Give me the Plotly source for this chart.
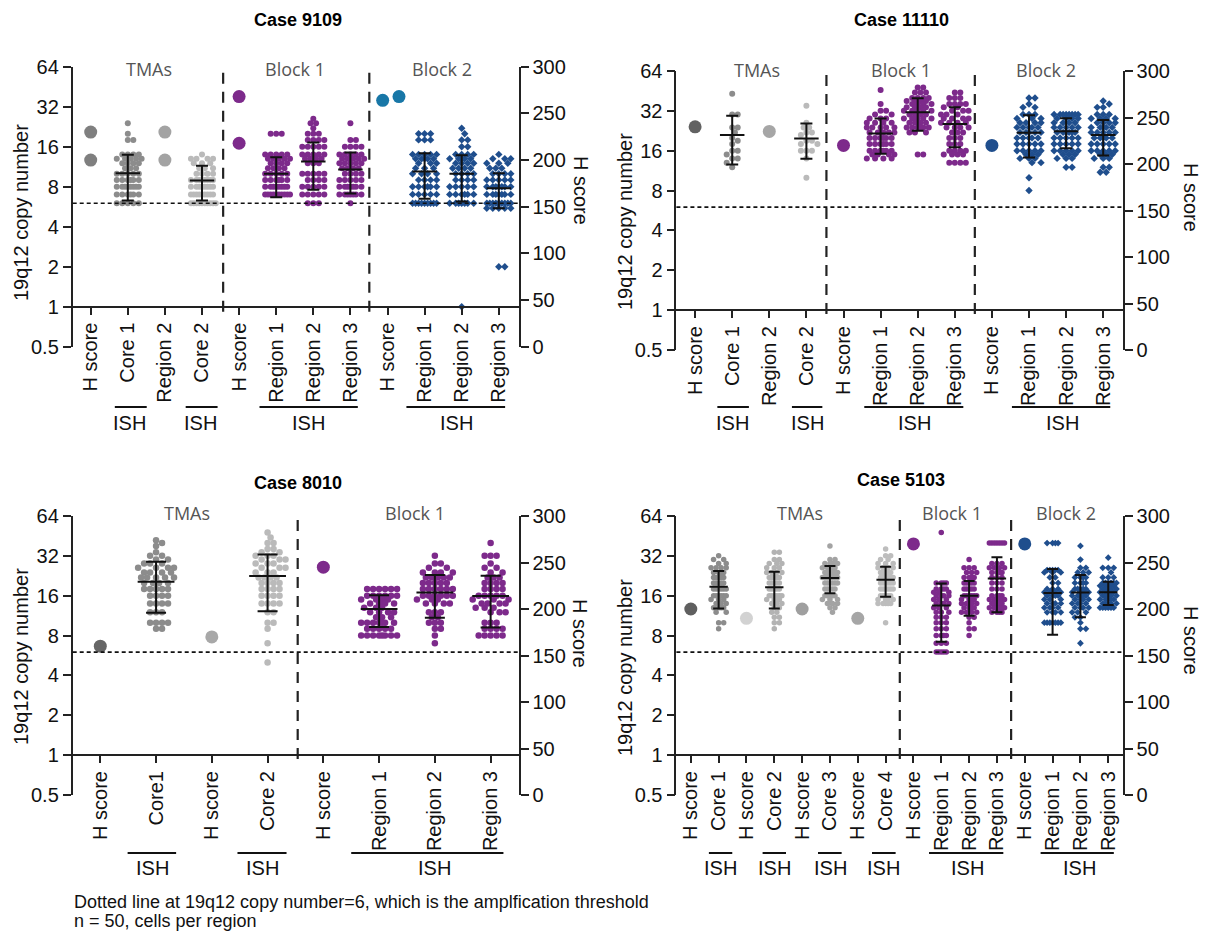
import math
import plotly.graph_objects as go

# figure fills the 1214x934 window after the page's default 8px body margin
OFF = 8
W, H = 1214 - OFF, 934 - OFF

# ======================= DATA =======================
# ---- Case 9109 ----
C9109_LABELS = ["H score", "Core 1", "Region 2", "Core 2", "H score", "Region 1", "Region 2", "Region 3",
                "H score", "Region 1", "Region 2", "Region 3"]
C9109_H_COLS = [0, 0, 2, 2, 4, 4, 8, 8]
C9109_H_SCORE = [230, 200, 230, 200, 268, 218, 264, 268]
C9109_ISH_COLS = [1, 3, 5, 6, 7, 9, 10, 11]
C9109_CORE1 = {24: 1, 20: 1, 18: 2, 14: 4, 13: 5, 12: 4, 11: 3, 10: 5, 9: 6, 8: 8, 7: 6, 6: 5}
C9109_CORE2 = {14: 1, 13: 4, 12: 3, 11: 3, 10: 4, 9: 8, 8: 8, 7: 9, 6: 10}
C9109_B1_R1 = {20: 3, 14: 5, 13: 5, 12: 4, 11: 4, 10: 5, 9: 6, 8: 8, 7: 10}
C9109_B1_R2 = {26: 1, 24: 2, 22: 1, 20: 3, 18: 4, 16: 5, 14: 5, 13: 4, 12: 3, 10: 5, 9: 4, 8: 5, 7: 5, 6: 3}
C9109_B1_R3 = {24: 1, 18: 2, 16: 4, 14: 5, 13: 5, 12: 5, 11: 4, 10: 4, 9: 5, 8: 7, 7: 7, 6: 1}
C9109_B2_R1 = {20: 3, 18: 3, 14: 5, 13: 5, 12: 3, 11: 3, 10: 4, 9: 4, 8: 6, 7: 5, 6: 9}
C9109_B2_R2 = {22: 1, 20: 1, 18: 2, 16: 2, 14: 4, 13: 5, 12: 4, 11: 4, 10: 4, 9: 4, 8: 5, 7: 6, 6: 7, 1: 1}
C9109_B2_R3 = {14: 1, 13: 3, 12: 3, 11: 3, 10: 4, 9: 5, 8: 7, 7: 7, 6: 10, 5.5: 5, 2: 2}
C9109_MEAN = [10.1, 8.9, 10.0, 12.4, 10.8, 10.4, 10.0, 7.8]
C9109_SD = [3.8, 2.6, 3.35, 4.8, 3.7, 3.9, 3.8, 2.3]

# ---- Case 11110 ----
C11110_LABELS = C9109_LABELS
C11110_H_COLS = [0, 2, 4, 8]
C11110_H_SCORE = [240, 235, 220, 220]
C11110_ISH_COLS = [1, 3, 5, 6, 7, 9, 10, 11]
C11110_CORE1 = {43: 1, 30: 2, 24: 2, 22: 1, 20: 1, 19: 1, 18: 1, 16: 2, 15: 1, 14: 2, 13: 1, 12: 1}
C11110_CORE2 = {35: 1, 26: 1, 24: 2, 22: 2, 21: 1, 19: 2, 18: 2, 16: 3, 14: 1, 10: 1}
C11110_B1_R1 = {46: 1, 36: 1, 32: 2, 30: 2, 28: 3, 26: 4, 24: 5, 22: 6, 20: 6, 18: 6, 16: 6, 15: 4, 14: 4}
C11110_B1_R2 = {48: 2, 44: 3, 40: 4, 38: 4, 36: 4, 34: 4, 32: 5, 30: 4, 28: 5, 26: 4, 24: 6, 22: 3, 15: 2}
C11110_B1_R3 = {44: 2, 40: 3, 36: 4, 34: 2, 32: 3, 30: 3, 28: 4, 26: 4, 24: 4, 22: 3, 20: 3, 18: 3, 16: 4,
                15: 4, 13: 4}
C11110_B2_R1 = {40: 2, 36: 1, 34: 2, 30: 3, 28: 3, 26: 4, 24: 5, 22: 5, 20: 5, 18: 5, 16: 5, 15: 3, 14: 3,
                13: 2, 10: 1, 8: 1}
C11110_B2_R2 = {30: 8, 28: 4, 26: 4, 24: 5, 22: 6, 20: 5, 18: 5, 16: 5, 15: 3, 14: 3, 12: 2}
C11110_B2_R3 = {38: 1, 36: 1, 34: 2, 30: 3, 28: 4, 26: 4, 24: 5, 22: 5, 20: 5, 18: 5, 16: 5, 15: 3, 14: 3,
                12: 2, 11: 2}
C11110_MEAN = [21.0, 19.8, 21.6, 31.2, 25.5, 21.9, 22.4, 21.0]
C11110_SD = [8.4, 5.9, 6.4, 8.6, 8.5, 7.7, 5.7, 6.3]

# ---- Case 8010 ----
C8010_LABELS = ["H score", "Core1", "H score", "Core 2", "H score", "Region 1", "Region 2", "Region 3"]
C8010_H_COLS = [0, 2, 4]
C8010_H_SCORE = [160, 170, 245]
C8010_ISH_COLS = [1, 3, 5, 6, 7]
C8010_CORE1 = {42: 1, 40: 1, 38: 1, 34: 1, 32: 2, 30: 2, 28: 3, 26: 4, 24: 4, 22: 5, 20: 4, 18: 5, 16: 4,
               14: 4, 12: 3, 10: 4, 9: 2}
C8010_CORE2 = {48: 1, 44: 1, 40: 2, 36: 2, 34: 2, 32: 3, 30: 3, 28: 3, 26: 3, 24: 3, 22: 4, 20: 4, 18: 4,
               16: 4, 14: 4, 12: 2, 10: 2, 9: 1, 7: 1, 5: 1}
C8010_B1_R1 = {18: 6, 16: 6, 15: 4, 14: 4, 13: 3, 12: 4, 11: 3, 10: 7, 9: 5, 8: 8}
C8010_B1_R2 = {32: 1, 28: 2, 26: 2, 24: 4, 22: 5, 20: 5, 18: 6, 16: 6, 15: 3, 14: 4, 12: 3, 11: 2, 10: 3,
               9: 2, 8: 1, 7: 1}
C8010_B1_R3 = {40: 1, 32: 3, 28: 1, 26: 2, 24: 2, 22: 3, 20: 4, 18: 4, 16: 5, 15: 3, 14: 4, 13: 3, 12: 3,
               10: 3, 9: 4, 8: 5}
C8010_MEAN = [20.4, 22.5, 12.7, 16.9, 15.9]
C8010_SD = [8.5, 10.3, 3.4, 6.0, 6.7]

# ---- Case 5103 ----
C5103_LABELS = ["H score", "Core 1", "H score", "Core 2", "H score", "Core 3", "H score", "Core 4",
                "H score", "Region 1", "Region 2", "Region 3", "H score", "Region 1", "Region 2", "Region 3"]
C5103_H_COLS = [0, 2, 4, 6, 8, 12]
C5103_H_SCORE = [200, 190, 200, 190, 270, 270]
C5103_ISH_COLS = [1, 3, 5, 7, 9, 10, 11, 13, 14, 15]
C5103_CORE1 = {32: 1, 30: 2, 28: 2, 26: 4, 24: 4, 22: 5, 20: 5, 18: 6, 16: 6, 15: 3, 14: 3, 13: 4, 12: 2,
               10: 2, 9: 1}
C5103_CORE2 = {34: 2, 30: 2, 28: 3, 26: 3, 24: 4, 22: 5, 20: 5, 18: 5, 16: 6, 15: 3, 14: 3, 13: 2, 12: 2,
               11: 2, 10: 2, 9: 1}
C5103_CORE3 = {38: 1, 30: 2, 28: 4, 26: 5, 24: 6, 22: 7, 20: 6, 18: 5, 16: 5, 15: 3, 14: 3, 13: 2, 12: 1}
C5103_CORE4 = {36: 1, 32: 2, 30: 2, 28: 3, 26: 4, 24: 5, 22: 6, 20: 6, 18: 6, 16: 5, 15: 4, 14: 5, 10: 1}
C5103_B1_R1 = {48: 1, 20: 4, 18: 4, 17: 3, 16: 4, 15: 3, 14: 4, 13: 3, 12: 3, 11: 3, 10: 3, 9: 3, 8: 4,
               7: 3, 6: 5}
C5103_B1_R2 = {30: 1, 26: 3, 24: 3, 22: 4, 20: 5, 18: 5, 16: 6, 15: 4, 14: 5, 13: 4, 12: 4, 11: 2, 10: 1,
               9: 2, 8: 1}
C5103_B1_R3 = {40: 7, 28: 3, 26: 4, 24: 4, 22: 3, 20: 3, 18: 3, 16: 4, 15: 4, 14: 5, 13: 6, 12: 4}
C5103_B2_R1 = {40: 4, 25: 5, 24: 3, 22: 2, 20: 2, 18: 3, 17: 5, 16: 4, 15: 3, 14: 4, 13: 4, 12: 4, 10: 7}
C5103_B2_R2 = {38: 1, 30: 1, 26: 2, 24: 3, 22: 4, 20: 4, 18: 5, 17: 4, 16: 5, 15: 4, 14: 4, 13: 4, 12: 3,
               11: 2, 10: 1, 9: 2, 7: 1}
C5103_B2_R3 = {31: 1, 26: 3, 24: 1, 22: 3, 20: 6, 19: 5, 18: 5, 17: 5, 16: 5, 15: 5, 14: 5, 13: 6}
C5103_MEAN = [18.7, 18.55, 21.75, 21.1, 13.5, 16.0, 21.6, 16.8, 16.95, 17.0]
C5103_SD = [5.9, 5.75, 5.05, 5.4, 6.3, 4.7, 9.6, 8.7, 5.95, 3.4]

Y_TICKS = [0.5, 1, 2, 4, 8, 16, 32, 64]
Y_TICK_TEXT = ["0.5", "1", "2", "4", "8", "16", "32", "64"]
H_TICKS = [0, 50, 100, 150, 200, 250, 300]
THRESHOLD = 6
FOOTNOTE = ["Dotted line at 19q12 copy number=6, which is the amplfication threshold",
            "n = 50, cells per region"]

# ======================= STYLE =======================
FONT = "Liberation Sans, Arial, Helvetica, sans-serif"
HFONT = "Open Sans, Noto Sans, sans-serif"
PURPLE = "#7d2a8b"
BLUE = "#1f4e8d"
TEAL = "#1877a7"
G1, G2 = "#8c8c8c", "#bababa"

PANELS = [
    dict(title="Case 9109", title_xy=(298, 20), labels=C9109_LABELS,
         h_cols=C9109_H_COLS, h_vals=C9109_H_SCORE, ish_cols=C9109_ISH_COLS,
         ish=[C9109_CORE1, C9109_CORE2, C9109_B1_R1, C9109_B1_R2, C9109_B1_R3, C9109_B2_R1, C9109_B2_R2,
              C9109_B2_R3],
         mean=C9109_MEAN, sd=C9109_SD,
         xdom=(72.7, 518.6), ytop=66.7, ybot=346.7, col0=90.7, ppc=37.1,
         h_colors=["#7f7f7f", "#7f7f7f", "#a3a3a3", "#a3a3a3", PURPLE, PURPLE, TEAL, TEAL],
         h_off=[0, 0, 0, 0, 0, 0, -0.13, 0.31],
         ish_colors=[G1, G2, PURPLE, PURPLE, PURPLE, BLUE, BLUE, BLUE],
         seps=[3.57, 7.51], sep_bot=311.7,
         headers=[("TMAs", 1.57), ("Block 1", 5.5), ("Block 2", 9.47)], header_y=69,
         segs=[(0.65, 1.51), (2.56, 3.42), (4.55, 7.2), (8.51, 11.17)], seg_y=407,
         ish_text=[1.05, 2.97, 5.88, 9.85], ish_text_y=423,
         ltitle=(21, 213), rtitle=(581, 190), maxhalf=14, cap=6, msize=6),
    dict(title="Case 11110", title_xy=(901, 20), labels=C11110_LABELS,
         h_cols=C11110_H_COLS, h_vals=C11110_H_SCORE, ish_cols=C11110_ISH_COLS,
         ish=[C11110_CORE1, C11110_CORE2, C11110_B1_R1, C11110_B1_R2, C11110_B1_R3, C11110_B2_R1,
              C11110_B2_R2, C11110_B2_R3],
         mean=C11110_MEAN, sd=C11110_SD,
         xdom=(676.4, 1122.7), ytop=71, ybot=350, col0=695.1, ppc=37.1,
         h_colors=["#626262", "#a6a6a6", PURPLE, BLUE], h_off=[0, 0, 0, 0],
         ish_colors=[G1, G2, PURPLE, PURPLE, PURPLE, BLUE, BLUE, BLUE],
         seps=[3.54, 7.54], sep_bot=314,
         headers=[("TMAs", 1.66), ("Block 1", 5.56), ("Block 2", 9.47)], header_y=70,
         segs=[(0.6, 1.45), (2.61, 3.43), (4.56, 7.23), (8.54, 11.19)], seg_y=407,
         ish_text=[1.0, 3.03, 5.91, 9.89], ish_text_y=423,
         ltitle=(625, 221), rtitle=(1191, 197), maxhalf=14, cap=6, msize=6),
    dict(title="Case 8010", title_xy=(298, 483), labels=C8010_LABELS,
         h_cols=C8010_H_COLS, h_vals=C8010_H_SCORE, ish_cols=C8010_ISH_COLS,
         ish=[C8010_CORE1, C8010_CORE2, C8010_B1_R1, C8010_B1_R2, C8010_B1_R3],
         mean=C8010_MEAN, sd=C8010_SD,
         xdom=(72.7, 518.6), ytop=516, ybot=795, col0=100.3, ppc=55.76,
         h_colors=["#666666", "#a8a8a8", PURPLE], h_off=[0, 0, 0],
         ish_colors=[G1, G2, PURPLE, PURPLE, PURPLE],
         seps=[3.54], sep_bot=759,
         headers=[("TMAs", 1.56), ("Block 1", 5.64)], header_y=513,
         segs=[(0.49, 1.36), (2.46, 3.34), (4.5, 7.23)], seg_y=853,
         ish_text=[0.93, 2.9, 6.0], ish_text_y=868,
         ltitle=(21, 657), rtitle=(580, 633), maxhalf=18, cap=10, msize=6.5),
    dict(title="Case 5103", title_xy=(901, 480), labels=C5103_LABELS,
         h_cols=C5103_H_COLS, h_vals=C5103_H_SCORE, ish_cols=C5103_ISH_COLS,
         ish=[C5103_CORE1, C5103_CORE2, C5103_CORE3, C5103_CORE4, C5103_B1_R1, C5103_B1_R2, C5103_B1_R3,
              C5103_B2_R1, C5103_B2_R2, C5103_B2_R3],
         mean=C5103_MEAN, sd=C5103_SD,
         xdom=(676.4, 1122.7), ytop=516, ybot=795, col0=690.8, ppc=27.83,
         h_colors=["#5f5f5f", "#d2d2d2", "#9f9f9f", "#a6a6a6", PURPLE, BLUE], h_off=[0] * 6,
         ish_colors=[G1, "#b3b3b3", "#a3a3a3", "#bdbdbd", PURPLE, PURPLE, PURPLE, BLUE, BLUE, BLUE],
         seps=[7.51, 11.51], sep_bot=759,
         headers=[("TMAs", 3.91), ("Block 1", 9.4), ("Block 2", 13.48)], header_y=513,
         segs=[(0.65, 1.49), (2.58, 3.42), (4.57, 5.42), (6.51, 7.36), (8.56, 11.23), (12.57, 15.2)],
         seg_y=853, ish_text=[1.07, 3.0, 5.01, 6.94, 9.96, 13.97], ish_text_y=868,
         ltitle=(625, 667), rtitle=(1191, 640), maxhalf=9, cap=5.5, msize=5.5),
]


def px_x(x):
    return (x - OFF) / W


def px_y(y):
    return 1 - (y - OFF) / H


def swarm(values, ppd, ppc, d, maxhalf):
    """Beeswarm layout: returns sorted values and horizontal offsets (column units)."""
    pts = sorted(values, reverse=True)
    step = d / 2.0
    k_max = int(maxhalf / step)
    cands = [0.0]
    for k in range(1, k_max + 1):
        cands += [k * step, -k * step]
    placed, offs = [], []
    for v in pts:
        y = -ppd * math.log2(v)
        chosen, best_c, best_d = None, 0.0, -1.0
        for cx in cands:
            md = min((math.hypot(cx - qx, y - qy) for qx, qy in placed), default=1e9)
            if md >= d * 0.95:
                chosen = cx
                break
            if md > best_d:
                best_d, best_c = md, cx
        if chosen is None:
            chosen = best_c
        placed.append((chosen, y))
        offs.append(chosen / ppc)
    return pts, offs


fig = go.Figure()
layout = dict()
shapes = []
annotations = []

for i, P in enumerate(PANELS):
    xn = "x" if i == 0 else f"x{i + 1}"
    kl, kr = 2 * i + 1, 2 * i + 2
    yl = "y" if kl == 1 else f"y{kl}"
    yr = f"y{kr}"
    xkey = "xaxis" if i == 0 else f"xaxis{i + 1}"
    ylkey = "yaxis" if kl == 1 else f"yaxis{kl}"
    yrkey = f"yaxis{kr}"

    ytop, ybot = P["ytop"], P["ybot"]
    ppd = (ybot - ytop) / 7.0
    y_one = ybot - ppd
    x0 = (P["xdom"][0] - P["col0"]) / P["ppc"]
    x1 = (P["xdom"][1] - P["col0"]) / P["ppc"]
    n = len(P["labels"])

    layout[xkey] = dict(domain=[px_x(P["xdom"][0]), px_x(P["xdom"][1])], range=[x0, x1],
                        anchor="free", position=px_y(y_one), automargin=False,
                        tickmode="array", tickvals=list(range(n)), ticktext=P["labels"],
                        tickangle=-90, ticks="outside", ticklen=7, tickwidth=1.8, tickcolor="#222",
                        showline=True, linewidth=1.8, linecolor="#222", showgrid=False, zeroline=False,
                        tickfont=dict(family=FONT, size=20, color="#111"))
    layout[ylkey] = dict(domain=[px_y(ybot), px_y(ytop)], type="log", automargin=False,
                         range=[math.log10(0.5), math.log10(64)], anchor=xn,
                         tickmode="array", tickvals=Y_TICKS, ticktext=Y_TICK_TEXT,
                         ticks="outside", ticklen=8, tickwidth=1.8, tickcolor="#222",
                         showline=True, linewidth=1.8, linecolor="#222", showgrid=False, zeroline=False,
                         tickfont=dict(family=FONT, size=20, color="#111"))
    layout[yrkey] = dict(overlaying=yl, side="right", anchor=xn, range=[0, 300], automargin=False,
                         tickmode="array", tickvals=H_TICKS,
                         ticks="outside", ticklen=8, tickwidth=1.8, tickcolor="#222",
                         showline=True, linewidth=1.8, linecolor="#222", showgrid=False, zeroline=False,
                         tickfont=dict(family=FONT, size=20, color="#111"))

    # threshold line
    thr_y = y_one - ppd * math.log2(THRESHOLD)
    shapes.append(dict(type="line", xref=f"{xn} domain", yref="paper", x0=0, x1=1,
                       y0=px_y(thr_y), y1=px_y(thr_y), line=dict(color="#111", width=1.6, dash="4px,3px")))
    # separators
    for s in P["seps"]:
        shapes.append(dict(type="line", xref=xn, yref="paper", x0=s, x1=s,
                           y0=px_y(P["sep_bot"]), y1=px_y(ytop), line=dict(color="#222", width=2.2,
                                                                          dash="11px,8px")))
    # ISH underline segments
    for (a, b) in P["segs"]:
        shapes.append(dict(type="line", xref=xn, yref="paper", x0=a, x1=b,
                           y0=px_y(P["seg_y"]), y1=px_y(P["seg_y"]), line=dict(color="#111", width=2)))
    for tx in P["ish_text"]:
        annotations.append(dict(text="ISH", xref=xn, yref="paper", x=tx, y=px_y(P["ish_text_y"]),
                                showarrow=False, xanchor="center", yanchor="middle",
                                font=dict(family=FONT, size=20, color="#111")))
    # headers
    for (t, hx) in P["headers"]:
        annotations.append(dict(text=t, xref=xn, yref="paper", x=hx, y=px_y(P["header_y"]),
                                showarrow=False, xanchor="center", yanchor="middle",
                                font=dict(family=HFONT, size=18, color="#555555")))
    # titles
    annotations.append(dict(text="<b>" + P["title"] + "</b>", xref="paper", yref="paper",
                            x=px_x(P["title_xy"][0]), y=px_y(P["title_xy"][1]), showarrow=False,
                            xanchor="center", yanchor="middle", font=dict(family=FONT, size=18, color="#000")))
    annotations.append(dict(text="19q12 copy number", xref="paper", yref="paper",
                            x=px_x(P["ltitle"][0]), y=px_y(P["ltitle"][1]), textangle=-90, showarrow=False,
                            xanchor="center", yanchor="middle", font=dict(family=FONT, size=20, color="#111")))
    annotations.append(dict(text="H score", xref="paper", yref="paper",
                            x=px_x(P["rtitle"][0]), y=px_y(P["rtitle"][1]), textangle=90, showarrow=False,
                            xanchor="center", yanchor="middle", font=dict(family=FONT, size=20, color="#111")))

    # ISH dots
    for j, (c, counts) in enumerate(zip(P["ish_cols"], P["ish"])):
        vals = [v for v, cnt in counts.items() for _ in range(cnt)]
        color = P["ish_colors"][j]
        sym = "diamond" if color == BLUE else "circle"
        spacing = P["msize"] * (1.0 if sym == "diamond" else 0.92)
        ys, offs = swarm(vals, ppd, P["ppc"], spacing, P["maxhalf"])
        fig.add_trace(go.Scatter(x=[c + o for o in offs], y=ys, mode="markers", xaxis=xn, yaxis=yl,
                                 marker=dict(color=color, size=P["msize"] - (0.3 if sym == "diamond" else 0),
                                             symbol=sym, line=dict(width=0)),
                                 showlegend=False, hoverinfo="y"))
    # H score dots
    for c, v, col, off in zip(P["h_cols"], P["h_vals"], P["h_colors"], P["h_off"]):
        fig.add_trace(go.Scatter(x=[c + off], y=[v], mode="markers", xaxis=xn, yaxis=yr,
                                 marker=dict(color=col, size=13, line=dict(width=0)),
                                 showlegend=False, hoverinfo="y"))
    # mean lines
    mx, my = [], []
    for c, m in zip(P["ish_cols"], P["mean"]):
        mx += [c - 0.33, c + 0.33, None]
        my += [m, m, None]
    fig.add_trace(go.Scatter(x=mx, y=my, mode="lines", xaxis=xn, yaxis=yl,
                             line=dict(color="#111", width=2), showlegend=False, hoverinfo="skip"))
    # SD error bars
    fig.add_trace(go.Scatter(x=P["ish_cols"], y=P["mean"], mode="markers", xaxis=xn, yaxis=yl,
                             marker=dict(size=1, color="rgba(0,0,0,0)"),
                             error_y=dict(type="data", array=P["sd"], symmetric=True, color="#111",
                                          thickness=2, width=P["cap"]),
                             showlegend=False, hoverinfo="skip"))

# footnote
for k, line in enumerate(FOOTNOTE):
    annotations.append(dict(text=line, xref="paper", yref="paper", x=px_x(72), y=px_y(902 + 19 * k),
                            showarrow=False, xanchor="left", yanchor="middle",
                            font=dict(family=FONT, size=18, color="#111")))

fig.update_layout(width=W, height=H, margin=dict(l=0, r=0, t=0, b=0, pad=0), showlegend=False,
                  autosize=False, plot_bgcolor="white", paper_bgcolor="white",
                  shapes=shapes, annotations=annotations, **layout)

fig.write_html("out.html")
